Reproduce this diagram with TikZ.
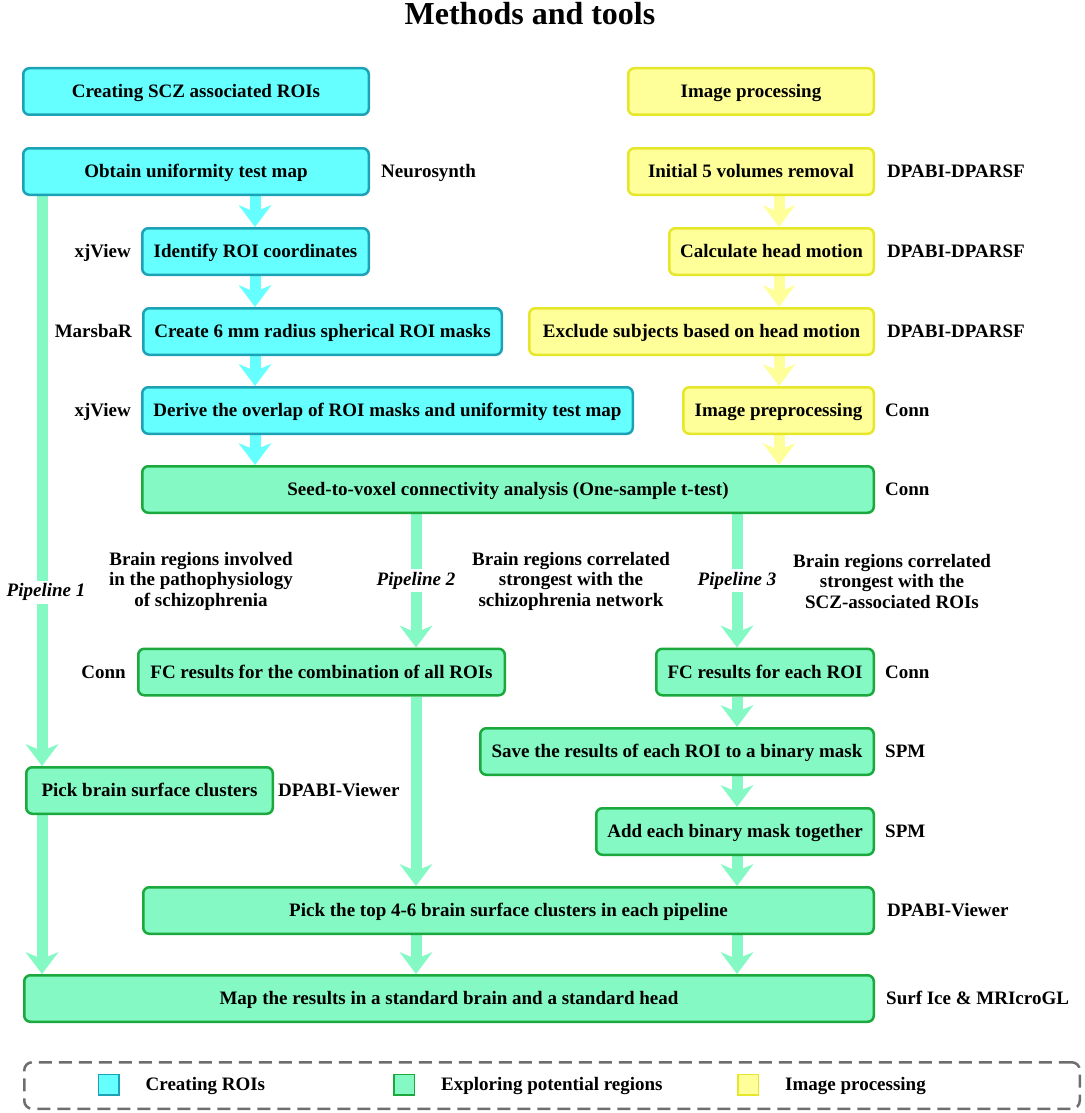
\documentclass[tikz,border=0pt]{standalone}
\usepackage{fontspec}
\setmainfont{Liberation Serif}
\usetikzlibrary{arrows.meta,backgrounds}

\definecolor{roifill}{HTML}{66FFFF}
\definecolor{roiline}{HTML}{1CA2B4}
\definecolor{expfill}{HTML}{84F9C4}
\definecolor{expline}{HTML}{1BA83C}
\definecolor{imgfill}{HTML}{FFFF99}
\definecolor{imgline}{HTML}{E6E62A}
\definecolor{legline}{HTML}{6E6E6E}

\begin{document}
\begin{tikzpicture}[x=1pt, y=-1pt,
    passo/.style={rounded corners=6pt, line width=2.5pt, minimum height=46.5pt, inner sep=0pt,
                  text height=12.6pt, text depth=0pt, font=\fontsize{19}{21}\selectfont\bfseries},
    roibox/.style={passo, fill=roifill, draw=roiline},
    expbox/.style={passo, fill=expfill, draw=expline},
    imgbox/.style={passo, fill=imgfill, draw=imgline},
    tool/.style={inner sep=0pt, text height=12.6pt, text depth=0pt, font=\fontsize{19}{21}\selectfont\bfseries},
    nota/.style={inner sep=0pt, align=center, font=\fontsize{19}{20.5}\selectfont\bfseries},
    pipe/.style={fill=white, text=black, inner sep=3pt, font=\fontsize{19}{21}\selectfont\bfseries\itshape},
    freccia/.style={line width=11pt, -{Stealth[length=22pt, width=33pt, inset=7pt, line width=0pt]}},
    quadretto/.style={minimum size=20.5pt, inner sep=0pt, line width=1.5pt}]

    \useasboundingbox (0,0) rectangle (1084,1113);

    % Titolo
    \node[font=\fontsize{32}{36}\selectfont\bfseries, anchor=base] (titolo) at (530,25) {Methods and tools};

    % -- Colonna sinistra: ROI associate a SCZ --
    \node[roibox, minimum width=345.5pt] (creating) at (196,91.5) {Creating SCZ associated ROIs};
    \node[roibox, minimum width=345.5pt] (obtain) at (196,171.5) {Obtain uniformity test map};
    \node[roibox, minimum width=226.5pt] (identify) at (255.5,251.5) {Identify ROI coordinates};
    \node[roibox, minimum width=358.5pt] (create) at (322.5,331.5) {Create 6 mm radius spherical ROI masks};
    \node[roibox, minimum width=490.5pt] (derive) at (387.5,410.5) {Derive the overlap of ROI masks and uniformity test map};

    \node[tool, anchor=west] (neurosynth) at ([xshift=11pt]obtain.east) {Neurosynth};
    \node[tool, anchor=east] (xjview1) at ([xshift=-10pt]identify.west) {xjView};
    \node[tool, anchor=east] (marsbar) at ([xshift=-10pt]create.west) {MarsbaR};
    \node[tool, anchor=east] (xjview2) at ([xshift=-10pt]derive.west) {xjView};

    % -- Colonna destra: elaborazione immagini --
    \node[imgbox, minimum width=245.5pt] (imgproc) at (751,91.5) {Image processing};
    \node[imgbox, minimum width=245.5pt] (initial) at (751,171.5) {Initial 5 volumes removal};
    \node[imgbox, minimum width=204.5pt] (headmot) at (771.5,251.5) {Calculate head motion};
    \node[imgbox, minimum width=344.5pt] (exclude) at (701.5,331.5) {Exclude subjects based on head motion};
    \node[imgbox, minimum width=190.5pt] (prepro) at (778.5,410.5) {Image preprocessing};

    \node[tool, anchor=west] (dparsf1) at ([xshift=12pt]initial.east) {DPABI-DPARSF};
    \node[tool, anchor=west] (dparsf2) at ([xshift=12pt]headmot.east) {DPABI-DPARSF};
    \node[tool, anchor=west] (dparsf3) at ([xshift=12pt]exclude.east) {DPABI-DPARSF};
    \node[tool, anchor=west] (conn1) at ([xshift=10pt]prepro.east) {Conn};

    % -- Parte centrale: esplorazione delle regioni --
    \node[expbox, minimum width=731.5pt] (seed) at (508,489.5) {Seed-to-voxel connectivity analysis (One-sample t-test)};
    \node[expbox, minimum width=366.5pt] (fcall) at (321.5,672) {FC results for the combination of all ROIs};
    \node[expbox, minimum width=217.5pt] (fceach) at (765,672) {FC results for each ROI};
    \node[expbox, minimum width=393.5pt] (save) at (677,751.5) {Save the results of each ROI to a binary mask};
    \node[expbox, minimum width=246.5pt] (pickbrain) at (149.5,790.5) {Pick brain surface clusters};
    \node[expbox, minimum width=277.5pt] (addmask) at (735,831.5) {Add each binary mask together};
    \node[expbox, minimum width=730.5pt] (picktop) at (508.5,910.5) {Pick the top 4-6 brain surface clusters in each pipeline};
    \node[expbox, minimum width=849.5pt] (mapres) at (449,998.5) {Map the results in a standard brain and a standard head};

    \node[tool, anchor=west] (conn2) at ([xshift=10pt]seed.east) {Conn};
    \node[tool, anchor=east] (conn3) at ([xshift=-11pt]fcall.west) {Conn};
    \node[tool, anchor=west] (conn4) at ([xshift=10pt]fceach.east) {Conn};
    \node[tool, anchor=west] (spm1) at ([xshift=10pt]save.east) {SPM};
    \node[tool, anchor=west] (viewer1) at ([xshift=4pt]pickbrain.east) {DPABI-Viewer};
    \node[tool, anchor=west] (spm2) at ([xshift=10pt]addmask.east) {SPM};
    \node[tool, anchor=west] (viewer2) at ([xshift=12pt]picktop.east) {DPABI-Viewer};
    \node[tool, anchor=west] (surfice) at ([xshift=11pt]mapres.east) {Surf Ice \& MRIcroGL};

    \node[nota] (nota1) at (201,581) {Brain regions involved\\in the pathophysiology\\of schizophrenia};
    \node[nota] (nota2) at (571,581) {Brain regions correlated\\strongest with the\\schizophrenia network};
    \node[nota] (nota3) at (892,581) {Brain regions correlated\\strongest with the\\SCZ-associated ROIs};

    % -- Frecce (sotto i riquadri) --
    \coordinate (asseroi) at (255,0);
    \coordinate (asseimg) at (779,0);
    \coordinate (p1) at (42,0);
    \coordinate (p2) at (416,0);
    \coordinate (p3) at (737,0);

    \begin{scope}[on background layer]
        \draw[freccia, roifill] (obtain.south -| asseroi) -- (identify.north -| asseroi);
        \draw[freccia, roifill] (identify.south -| asseroi) -- (create.north -| asseroi);
        \draw[freccia, roifill] (create.south -| asseroi) -- (derive.north -| asseroi);
        \draw[freccia, roifill] (derive.south -| asseroi) -- (seed.north -| asseroi);

        \draw[freccia, imgfill] (initial.south -| asseimg) -- (headmot.north -| asseimg);
        \draw[freccia, imgfill] (headmot.south -| asseimg) -- (exclude.north -| asseimg);
        \draw[freccia, imgfill] (exclude.south -| asseimg) -- (prepro.north -| asseimg);
        \draw[freccia, imgfill] (prepro.south -| asseimg) -- (seed.north -| asseimg);

        % Pipeline 1
        \draw[freccia, expfill] (obtain.south -| p1) -- node[pipe, pos=0.695, xshift=4pt] (pipe1) {Pipeline 1} (pickbrain.north -| p1);
        \draw[freccia, expfill] (pickbrain.south -| p1) -- (mapres.north -| p1);

        % Pipeline 2
        \draw[freccia, expfill] (seed.south -| p2) -- node[pipe] (pipe2) {Pipeline 2} (fcall.north -| p2);
        \draw[freccia, expfill] (fcall.south -| p2) -- (picktop.north -| p2);
        \draw[freccia, expfill] (picktop.south -| p2) -- (mapres.north -| p2);

        % Pipeline 3
        \draw[freccia, expfill] (seed.south -| p3) -- node[pipe] (pipe3) {Pipeline 3} (fceach.north -| p3);
        \draw[freccia, expfill] (fceach.south -| p3) -- (save.north -| p3);
        \draw[freccia, expfill] (save.south -| p3) -- (addmask.north -| p3);
        \draw[freccia, expfill] (addmask.south -| p3) -- (picktop.north -| p3);
        \draw[freccia, expfill] (picktop.south -| p3) -- (mapres.north -| p3);
    \end{scope}

    % -- Legenda --
    \node[draw=legline, line width=2.5pt, dash pattern=on 13pt off 7pt, rounded corners=8pt,
          minimum width=1055.5pt, minimum height=46.5pt] (legenda) at (552,1085.5) {};
    \node[quadretto, fill=roifill, draw=roiline] (qroi) at (108.5,1084.5) {};
    \node[quadretto, fill=expfill, draw=expline] (qexp) at (404,1084.5) {};
    \node[quadretto, fill=imgfill, draw=imgline] (qimg) at (748,1084.5) {};
    \node[tool, anchor=west] (lroi) at ([xshift=26pt]qroi.east) {Creating ROIs};
    \node[tool, anchor=west] (lexp) at ([xshift=26pt]qexp.east) {Exploring potential regions};
    \node[tool, anchor=west] (limg) at ([xshift=26pt]qimg.east) {Image processing};

\end{tikzpicture}
\end{document}
